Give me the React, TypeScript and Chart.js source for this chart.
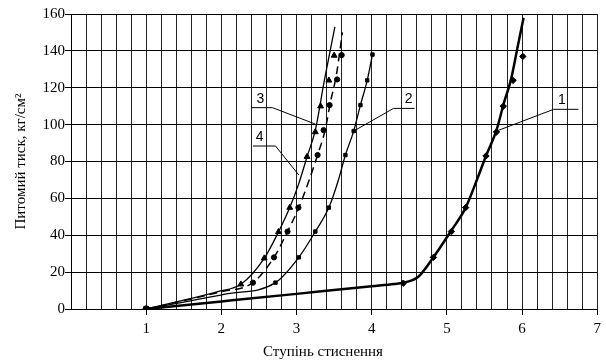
import React, { useEffect, useRef } from "react";
import { Chart, registerables } from "chart.js";

Chart.register(...registerables);

// ---- data ----
const yTickValues = [0, 20, 40, 60, 80, 100, 120, 140, 160];
const xTickLabels = ["1", "2", "3", "4", "5", "6", "7"];

const c1LineX = [1, 2, 3, 4, 4.3, 4.45, 4.62, 4.82, 5.05, 5.25, 5.38, 5.52, 5.66, 5.76, 5.85, 5.94, 6.02];
const c1LineY = [0, 4.1, 8.2, 12.3, 13.5, 14.5, 17.5, 28, 42, 55, 68, 83, 97, 112, 124, 142, 158];
const c1MarkX = [4.42, 4.82, 5.06, 5.25, 5.52, 5.66, 5.75, 5.88, 6.01];
const c1MarkY = [14, 28, 42, 55, 83, 96, 110, 124, 137];

const c2LineX = [1, 2.05, 2.72, 3.03, 3.25, 3.43, 3.55, 3.65, 3.76, 3.85, 3.94, 4.01];
const c2LineY = [0, 8.1, 14.3, 28, 42, 55, 69, 83.5, 96.5, 110.6, 124, 138];
const c2MarkX = [2.72, 3.03, 3.25, 3.43, 3.65, 3.76, 3.85, 3.94, 4.01];
const c2MarkY = [14.3, 28, 42, 55, 83.5, 96.5, 110.6, 124, 138];

const c3LineX = [1, 1.95, 2.26, 2.57, 2.76, 2.91, 3.03, 3.14, 3.25, 3.37, 3.51];
const c3LineY = [0, 9.4, 13.4, 27.5, 41.8, 55, 68, 82.6, 97, 124, 153];
const c3MarkX = [2.26, 2.57, 2.76, 2.91, 3.14, 3.25, 3.32, 3.43, 3.5];
const c3MarkY = [13.4, 27.5, 41.8, 55, 82.6, 96, 110, 124, 137.5];

const c4LineX = [1, 2.0, 2.42, 2.7, 2.88, 3.03, 3.16, 3.28, 3.38, 3.45, 3.53, 3.61];
const c4LineY = [0, 9.4, 14.3, 28, 42, 55, 69, 83.5, 97, 112, 127, 150];
const c4MarkX = [2.42, 2.7, 2.88, 3.025, 3.28, 3.36, 3.44, 3.54, 3.6];
const c4MarkY = [14.3, 28, 42, 55, 83.5, 97, 110.6, 124.5, 137.7];

const originX = [1];
const originY = [0];

// leader annotations (data coordinates)
const leaderNames = ["1", "2", "3", "4"];
const leaderShelfX1 = [6.42, 4.29, 2.4, 2.42];
const leaderShelfX2 = [6.75, 4.57, 2.68, 2.72];
const leaderShelfY = [108.3, 108.8, 109.2, 88.4];
const leaderTargetX = [5.66, 3.76, 3.25, 3.03];
const leaderTargetY = [96.5, 96.5, 100.3, 72.7];
const leaderLabelX = [6.53, 4.49, 2.52, 2.51];

const xTitle = "Ступінь стиснення";
const yTitle = "Питомий тиск, кг/см²";

const zip = (xs: number[], ys: number[]) => xs.map((x, i) => ({ x, y: ys[i] }));
const isInt = (v: number) => Math.abs(v - Math.round(v)) < 1e-6;

const SERIF = "'Liberation Serif', 'Times New Roman', serif";
const SANS = "'Liberation Sans', Arial, sans-serif";

export default function App() {
  const ref = useRef<HTMLCanvasElement | null>(null);

  useEffect(() => {
    if (!ref.current) return;

    const annotationPlugin = {
      id: "leaders",
      afterDatasetsDraw(chart: any) {
        const { ctx, scales } = chart;
        const xs = scales.x;
        const ys = scales.y;
        ctx.save();
        ctx.strokeStyle = "#000";
        ctx.lineWidth = 1;
        ctx.fillStyle = "#000";
        ctx.font = `14px ${SANS}`;
        ctx.textAlign = "center";
        ctx.textBaseline = "alphabetic";
        leaderNames.forEach((name, i) => {
          const x1 = xs.getPixelForValue(leaderShelfX1[i]);
          const x2 = xs.getPixelForValue(leaderShelfX2[i]);
          const sy = ys.getPixelForValue(leaderShelfY[i]);
          const tx = xs.getPixelForValue(leaderTargetX[i]);
          const ty = ys.getPixelForValue(leaderTargetY[i]);
          const from = leaderTargetX[i] < leaderShelfX1[i] ? x1 : x2;
          ctx.beginPath();
          ctx.moveTo(x1, sy);
          ctx.lineTo(x2, sy);
          ctx.moveTo(from, sy);
          ctx.lineTo(tx, ty);
          ctx.stroke();
          ctx.fillText(name, xs.getPixelForValue(leaderLabelX[i]), sy - 5);
        });
        // x-axis title
        ctx.font = `15px ${SERIF}`;
        ctx.textBaseline = "middle";
        ctx.fillText(xTitle, 323, 352);
        ctx.restore();
      },
    };

    const lineDs = (xs: number[], ys: number[], width: number, dash: number[] = []) => ({
      data: zip(xs, ys),
      showLine: true,
      borderColor: "#000",
      borderWidth: width,
      borderDash: dash,
      pointRadius: 0,
      cubicInterpolationMode: "monotone" as const,
      fill: false,
    });
    const markDs = (xs: number[], ys: number[], style: string, r: number) => ({
      data: zip(xs, ys),
      showLine: false,
      pointStyle: style,
      pointRadius: r,
      pointBackgroundColor: "#000",
      pointBorderColor: "#000",
      pointBorderWidth: 1,
    });

    const chart = new Chart(ref.current, {
      type: "scatter",
      data: {
        datasets: [
          lineDs(c1LineX, c1LineY, 2.5),
          lineDs(c2LineX, c2LineY, 1.3),
          lineDs(c3LineX, c3LineY, 1.3),
          lineDs(c4LineX, c4LineY, 1.5, [8, 5]),
          markDs(c1MarkX, c1MarkY, "rectRot", 3.2),
          markDs(c2MarkX, c2MarkY, "rect", 2.4),
          markDs(c3MarkX, c3MarkY, "triangle", 3.4),
          markDs(c4MarkX, c4MarkY, "circle", 2.6),
          markDs(originX, originY, "circle", 3.2),
        ] as any,
      },
      plugins: [annotationPlugin],
      options: {
        responsive: false,
        animation: false,
        layout: { padding: { left: 0, top: 14, right: 4, bottom: 0 } },
        plugins: {
          legend: { display: false },
          tooltip: { enabled: false },
        },
        scales: {
          x: {
            type: "linear",
            min: 0,
            max: 7,
            afterFit: (s: any) => {
              s.height = 54;
            },
            afterBuildTicks: (s: any) => {
              const t = [];
              for (let i = 0; i <= 35; i++) t.push({ value: i / 5 });
              s.ticks = t;
            },
            ticks: {
              autoSkip: false,
              maxRotation: 0,
              padding: 5,
              color: "#000",
              font: { family: SERIF, size: 15 },
              callback: (v: any) => {
                const n = Number(v);
                if (!isInt(n) || Math.round(n) < 1) return "";
                return xTickLabels[Math.round(n) - 1];
              },
            },
            grid: {
              color: "#222",
              lineWidth: 1,
              drawTicks: true,
              tickLength: 6,
              tickColor: (c: any) => (c.tick && isInt(c.tick.value) && c.tick.value > 0 ? "#000" : "rgba(0,0,0,0)"),
            },
            border: { color: "#000", width: 1 },
          },
          y: {
            type: "linear",
            min: 0,
            max: 160,
            afterFit: (s: any) => {
              s.width = 71;
            },
            afterBuildTicks: (s: any) => {
              s.ticks = yTickValues.map((v) => ({ value: v }));
            },
            ticks: {
              padding: 0,
              color: "#000",
              font: { family: SERIF, size: 15 },
            },
            grid: {
              color: "#000",
              lineWidth: 1,
              tickLength: 6,
              tickColor: "#000",
            },
            border: { color: "#000", width: 1 },
            title: {
              display: true,
              text: yTitle,
              color: "#000",
              font: { family: SERIF, size: 15 },
              padding: { top: 12, bottom: 0 },
            },
          },
        },
      },
    });
    return () => chart.destroy();
  }, []);

  return (
    <div style={{ position: "fixed", left: 0, top: 0, width: 606, height: 363, background: "#fff" }}>
      <canvas ref={ref} width={606} height={363} style={{ display: "block" }} />
    </div>
  );
}
